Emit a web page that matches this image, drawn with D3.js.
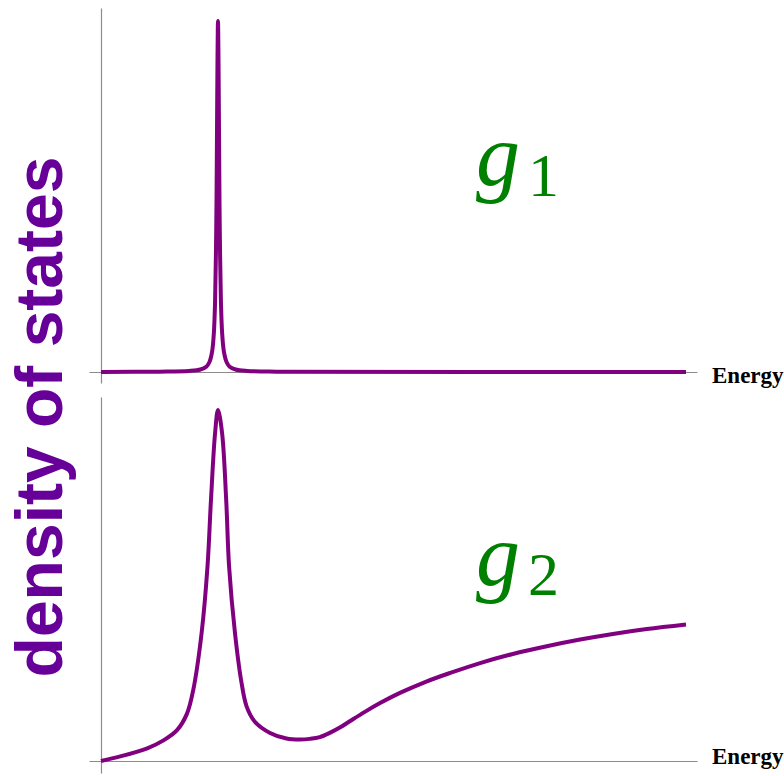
<!DOCTYPE html>
<html>
<head>
<meta charset="utf-8">
<script src="https://cdn.jsdelivr.net/npm/d3@7"></script>
<style>
  html, body { margin: 0; padding: 0; background: #fff; }
  svg { display: block; }
</style>
</head>
<body>
<svg id="chart" width="784" height="776"></svg>
<script>
// Density of states for two couplings g1 (narrow resonance) and g2 (broadened resonance + band)
const topEnergy = [0, 1, 1.5, 1.7, 1.8, 1.85, 1.9, 1.93, 1.95, 1.97, 1.98, 1.99, 2.0,
                   2.01, 2.02, 2.03, 2.05, 2.07, 2.1, 2.15, 2.2, 2.3, 2.5, 3, 10];
const topDos    = [0, 0.001, 0.003, 0.007, 0.015, 0.027, 0.059, 0.113, 0.2, 0.41, 0.61, 0.86, 1,
                   0.86, 0.61, 0.41, 0.2, 0.113, 0.059, 0.027, 0.015, 0.007, 0.003, 0.001, 0];

const bottomEnergy = [0, 0.33, 0.79, 1.06, 1.3, 1.47, 1.58, 1.72, 1.82, 1.88, 1.95, 2.0,
                      2.07, 2.14, 2.19, 2.29, 2.4, 2.49, 2.63, 2.89, 3.17, 3.4, 3.57, 3.74,
                      3.91, 4.09, 4.26, 4.51, 4.77, 5.11, 5.54, 5.97, 6.48, 7.04, 7.62,
                      8.19, 8.75, 9.33, 10];
const bottomDos    = [0, 0.013, 0.036, 0.058, 0.088, 0.135, 0.205, 0.365, 0.553, 0.744, 0.934, 1.0,
                      0.934, 0.744, 0.553, 0.365, 0.225, 0.155, 0.112, 0.08, 0.064, 0.061, 0.063, 0.068,
                      0.08, 0.096, 0.114, 0.14, 0.165, 0.194, 0.225, 0.251, 0.279, 0.305, 0.327,
                      0.346, 0.362, 0.376, 0.389];

const panelLabels = [["g", "1"], ["g", "2"]];
const axisTitle = "Energy";
const yTitle = "density of states";

const svg = d3.select("#chart");
const curveColor = "#800080";
const axisColor = "#8c8c8c";

const x = d3.scaleLinear().domain([0, 10]).range([101, 686]);

const panels = [
  { energy: topEnergy, dos: topDos, y: d3.scaleLinear().domain([0, 1]).range([372, 21]),
    axisY: [8, 383], axisX: 372, label: panelLabels[0], labelBase: 185, subBase: 196, titleBase: 383 },
  { energy: bottomEnergy, dos: bottomDos, y: d3.scaleLinear().domain([0, 1]).range([761, 410]),
    axisY: [397, 773], axisX: 761, label: panelLabels[1], labelBase: 585, subBase: 595, titleBase: 764 }
];

panels.forEach(p => {
  const g = svg.append("g");

  // horizontal axis line (no ticks)
  const xAxisScale = d3.scaleLinear().range([89, 697]);
  g.append("g")
    .attr("transform", `translate(0,${p.axisX})`)
    .call(d3.axisBottom(xAxisScale).ticks(0).tickSizeOuter(0))
    .call(a => a.select(".domain").attr("stroke", axisColor).attr("stroke-width", 1.2));

  // vertical axis line (no ticks)
  const yAxisScale = d3.scaleLinear().range([p.axisY[1], p.axisY[0]]);
  g.append("g")
    .attr("transform", `translate(${x(0)},0)`)
    .call(d3.axisLeft(yAxisScale).ticks(0).tickSizeOuter(0))
    .call(a => a.select(".domain").attr("stroke", axisColor).attr("stroke-width", 1.2));

  // density-of-states curve
  const pts = p.energy.map((e, i) => [e, p.dos[i]]);
  const line = d3.line()
    .x(d => x(d[0]))
    .y(d => p.y(d[1]))
    .curve(d3.curveCatmullRom.alpha(0.5));
  g.append("path")
    .datum(pts)
    .attr("d", line)
    .attr("fill", "none")
    .attr("stroke", curveColor)
    .attr("stroke-width", 4)
    .attr("stroke-linejoin", "round");

  // axis title
  g.append("text")
    .attr("x", 712)
    .attr("y", p.titleBase)
    .attr("font-family", "'Liberation Serif', 'Times New Roman', serif")
    .attr("font-weight", "bold")
    .attr("font-size", 23)
    .attr("fill", "#000")
    .text(axisTitle);

  // coupling label g_n
  g.append("text")
    .attr("x", 476)
    .attr("y", p.labelBase)
    .attr("font-family", "'Liberation Serif', 'Times New Roman', serif")
    .attr("font-style", "italic")
    .attr("font-size", 88)
    .attr("fill", "#008000")
    .text(p.label[0]);
  g.append("text")
    .attr("x", 528)
    .attr("y", p.subBase)
    .attr("font-family", "'Liberation Serif', 'Times New Roman', serif")
    .attr("font-size", 62)
    .attr("fill", "#008000")
    .text(p.label[1]);
});

// shared vertical title
svg.append("text")
  .attr("transform", "translate(62,417) rotate(-90)")
  .attr("text-anchor", "middle")
  .attr("font-family", "'Liberation Sans', Arial, Helvetica, sans-serif")
  .attr("font-weight", "bold")
  .attr("font-size", 66)
  .attr("fill", "#660099")
  .text(yTitle);
</script>
</body>
</html>
